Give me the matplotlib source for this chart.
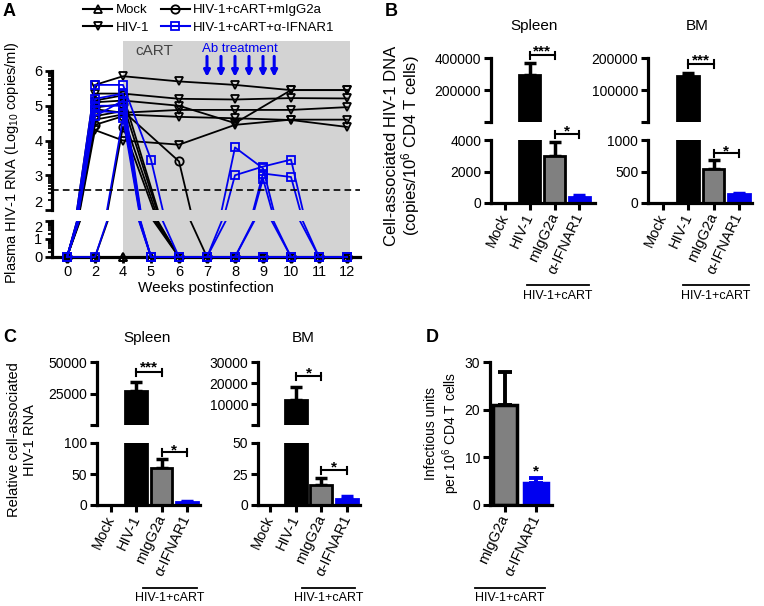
import numpy as np
import matplotlib.pyplot as plt
import matplotlib.transforms as mtransforms
from matplotlib.lines import Line2D
from matplotlib.patches import Rectangle

plt.rcParams['font.family'] = ['Liberation Sans', 'DejaVu Sans']
plt.rcParams['mathtext.fontset'] = 'custom'
plt.rcParams['mathtext.rm'] = 'Liberation Sans'
plt.rcParams['mathtext.it'] = 'Liberation Sans:italic'
plt.rcParams['mathtext.bf'] = 'Liberation Sans:bold'

BLUE = '#0000f0'
GRAY = '#808080'
SHADE = '#d3d3d3'

# ---------------- panel A data (log10 copies/ml per mouse)
week_vals = [0, 2, 4, 5, 6, 7, 8, 9, 10, 11, 12]
week_labels = ['0', '2', '4', '5', '6', '7', '8', '9', '10', '11', '12']
lod = 2.57
ab_weeks = [7, 7.5, 8, 8.5, 9, 9.4]

mock_weeks = [0, 2, 4, 5, 6, 7, 8, 9, 10, 11, 12]
mock_mice = [
    [0, 0, 0, 0, 0, 0, 0, 0, 0, 0, 0],
    [0, 0, 0, 0, 0, 0, 0, 0, 0, 0, 0],
]

hiv_weeks = [0, 2, 4, 6, 8, 10, 12]
hiv_mice = [
    [0, 5.60, 5.85, 5.70, 5.60, 5.45, 5.45],
    [0, 5.35, 5.35, 5.20, 5.18, 5.22, 5.21],
    [0, 5.10, 5.15, 5.00, 4.50, 5.45, 5.45],
    [0, 4.90, 4.80, 4.88, 4.88, 4.88, 4.96],
    [0, 4.60, 4.75, 4.68, 4.64, 4.59, 4.39],
    [0, 4.30, 4.00, 3.88, 4.45, 4.60, 4.60],
]

igg_weeks = [0, 2, 4, 6, 7, 8, 9, 10, 11, 12]
igg_mice = [
    [0, 5.15, 5.30, 0, 0, 0, 0, 0, 0, 0],
    [0, 4.95, 5.05, 0, 0, 0, 0, 0, 0, 0],
    [0, 4.70, 4.85, 3.40, 0, 0, 0, 0, 0, 0],
    [0, 4.45, 4.70, 0, 0, 0, 0, 0, 0, 0],
    [0, 0, 4.40, 0, 0, 0, 0, 0, 0, 0],
]

ifn_weeks = [0, 2, 4, 5, 6, 7, 8, 9, 10, 11, 12]
ifn_mice = [
    [0, 5.60, 5.60, 3.45, 0, 0, 3.80, 3.20, 0, 0, 0],
    [0, 5.20, 5.35, 0, 0, 0, 3.00, 3.25, 3.45, 0, 0],
    [0, 5.00, 5.00, 0, 0, 0, 0, 3.05, 2.95, 0, 0],
    [0, 4.85, 4.80, 0, 0, 0, 0, 2.90, 0, 0, 0],
    [0, 4.70, 5.15, 0, 0, 0, 0, 0, 0, 0, 0],
    [0, 0, 4.65, 0, 0, 0, 0, 0, 0, 0, 0],
]

# ---------------- bar panels data
cats = ['Mock', 'HIV-1', 'mIgG2a', 'α-IFNAR1']
b_spl_mean = [0, 297000, 3000, 380]
b_spl_err = [0, 75000, 850, 100]
b_bm_mean = [0, 145000, 535, 143]
b_bm_err = [0, 8000, 150, 20]
c_spl_mean = [0, 27000, 60, 5]
c_spl_err = [0, 7500, 14, 2]
c_bm_mean = [0, 12000, 16, 5]
c_bm_err = [0, 6000, 5.5, 2]
d_cats = ['mIgG2a', 'α-IFNAR1']
d_mean = [21, 4.6]
d_err = [7, 1.1]

fills = ['black', 'black', GRAY, BLUE]
edges = ['black', 'black', 'black', BLUE]

W, H = 764, 606
fig = plt.figure(figsize=(W / 100, H / 100), dpi=100)


def px_ax(x0, y0, x1, y1):
    ax = fig.add_axes([x0 / W, 1 - y1 / H, (x1 - x0) / W, (y1 - y0) / H])
    ax.set_facecolor('none')
    for s in ['top', 'right']:
        ax.spines[s].set_visible(False)
    for s in ['left', 'bottom']:
        ax.spines[s].set_linewidth(2.3)
    return ax


def fy(p):
    return 1 - p / H


# ================= Panel A
xa0, xa1, xfirst, xstep = 52, 360, 67, 28
xlimA = (-(xfirst - xa0) / xstep, (xa1 - xfirst) / xstep)
axT = px_ax(xa0, 41, xa1, 210)
axT.set_ylim(2, 6 + (71 - 41) / 34.75)
axB = px_ax(xa0, 221, xa1, 260)
axB.set_ylim(-(260 - 257) / 18, 2)

for ax in (axT, axB):
    ax.set_xlim(xlimA)
    ax.tick_params(axis='y', which='major', length=5, width=2, labelsize=10.5, pad=2)
    ax.tick_params(axis='y', which='minor', length=3, width=1.3)
axT.spines['bottom'].set_visible(False)
axT.tick_params(axis='x', bottom=False, labelbottom=False)
axT.spines['left'].set_bounds(2, 6)
axT.set_yticks([2, 3, 4, 5, 6])
axT.set_yticks([n + np.log10(k) for n in range(2, 6) for k in range(2, 10)], minor=True)
axT.get_yticklabels()[0].set_va('bottom')
axB.spines['left'].set_bounds(0, 2)
axB.spines['bottom'].set_position(('data', 0))
axB.set_yticks([0, 1, 2])
axB.set_yticks([n + np.log10(k) for n in range(0, 2) for k in range(2, 10)], minor=True)
axB.get_yticklabels()[-1].set_va('top')
axB.set_xticks(range(len(week_vals)), week_labels)
axB.tick_params(axis='x', length=4, width=2, labelsize=10.5, pad=2)
axB.set_xlabel('Weeks postinfection', fontsize=11, labelpad=1)

trA = mtransforms.blended_transform_factory(axB.transData, fig.transFigure)
fig.add_artist(Rectangle((week_vals.index(4), fy(257)), 8.1, (257 - 41) / H,
                         transform=trA, facecolor=SHADE, edgecolor='none', zorder=-1))

axT.axhline(lod, color='black', lw=1.2, ls=(0, (4, 2.5)), zorder=4)


def plot_mice(weeks, mice, color, marker, z):
    xs = [week_vals.index(w) for w in weeks]
    for ys in mice:
        for ax, top in ((axT, True), (axB, False)):
            ax.plot(xs, ys, color=color, lw=1.3, zorder=z)
            pts = [(x, v) for x, v in zip(xs, ys) if (v >= 2 if top else v <= 2)]
            if pts:
                mx, my = zip(*pts)
                ax.plot(mx, my, ls='none', marker=marker, ms=6, mfc='none', mec=color,
                        mew=1.3, clip_on=False, zorder=z + 0.1)


plot_mice(mock_weeks, mock_mice, 'black', '^', 3)
plot_mice(hiv_weeks, hiv_mice, 'black', 'v', 3.2)
plot_mice(igg_weeks, igg_mice, 'black', 'o', 3.4)
plot_mice(ifn_weeks, ifn_mice, BLUE, 's', 3.6)

ab_x = np.interp(ab_weeks, week_vals, range(len(week_vals)))
for x in ab_x:
    axT.annotate('', xy=(x, 5.83), xytext=(x, 6.42),
                 arrowprops=dict(arrowstyle='-|>', color=BLUE, lw=2.2, mutation_scale=9,
                                 shrinkA=0, shrinkB=0), annotation_clip=False)
fig.text(154 / W, fy(51), 'cART', ha='center', va='center', fontsize=11, color='#444444')
fig.text(240 / W, fy(49), 'Ab treatment', ha='center', va='center', fontsize=9.5, color=BLUE)

handles = [
    Line2D([], [], color='black', marker='^', mfc='none', ms=6, mew=1.3, lw=1.5),
    Line2D([], [], color='black', marker='v', mfc='none', ms=6, mew=1.3, lw=1.5),
    Line2D([], [], color='black', marker='o', mfc='none', ms=6, mew=1.3, lw=1.5),
    Line2D([], [], color=BLUE, marker='s', mfc='none', ms=6, mew=1.3, lw=1.5),
]
fig.legend(handles, ['Mock', 'HIV-1', 'HIV-1+cART+mIgG2a', 'HIV-1+cART+α-IFNAR1'],
           ncol=2, loc='center', bbox_to_anchor=(209 / W, fy(19)), frameon=False,
           fontsize=9.5, handlelength=2.2, handletextpad=0.25, columnspacing=0.9,
           labelspacing=0.38, borderpad=0)
fig.text(12 / W, fy(163), 'Plasma HIV-1 RNA (Log$_{10}$ copies/ml)', rotation=90,
         ha='center', va='center', fontsize=10.5)


# ================= bar helpers
def draw_bars(ax, pos, means, errs, width, base=0):
    keep = [i for i, m in enumerate(means) if m > base]
    ax.bar([pos[i] for i in keep], [means[i] - base for i in keep], bottom=base, width=width,
           color=[fills[i] for i in keep], edgecolor=[edges[i] for i in keep],
           linewidth=2, zorder=2)
    for i in keep:
        if errs[i] > 0:
            ax.errorbar(pos[i], means[i], yerr=[[0], [errs[i]]], fmt='none', ecolor=edges[i],
                        elinewidth=2.5, capsize=4.5, capthick=2.5, zorder=1.9)


def style_x(ax, labels):
    ax.set_xticks(range(len(labels)))
    ax.set_xticklabels(labels, rotation=65, ha='right', va='center', rotation_mode='anchor',
                       fontsize=10.5)
    ax.tick_params(axis='x', length=5, width=2.2, pad=3)
    ax.tick_params(axis='y', length=5, width=2.2, labelsize=10, pad=2)


def broken_panel(xpx, low, up, means, errs):
    spine, first, step, end = xpx
    xlim = (-(first - spine) / step, (end - first) / step)
    lhi, px0, pxl, lticks = low
    lo, hi, pxlo, pxhi, pxtop, uticks = up
    au = px_ax(spine, pxtop, end, pxlo)
    au.set_ylim(lo, hi + (pxhi - pxtop) * (hi - lo) / (pxlo - pxhi))
    al = px_ax(spine, pxl, end, px0)
    al.set_ylim(0, lhi)
    pos = list(range(len(means)))
    au.set_xlim(xlim)
    al.set_xlim(xlim)
    draw_bars(au, pos, means, errs, 0.86, base=lo)
    draw_bars(al, pos, means, errs, 0.86)
    au.spines['bottom'].set_visible(False)
    au.tick_params(axis='x', bottom=False, labelbottom=False)
    au.tick_params(axis='y', length=5, width=2.2, labelsize=10, pad=2)
    au.spines['left'].set_bounds(lo, hi)
    au.set_yticks(uticks, ['' if t == lo else str(t) for t in uticks])
    al.spines['left'].set_bounds(0, lhi)
    al.set_yticks(lticks, [str(t) for t in lticks])
    style_x(al, cats)
    return au, al


def bracket(ax, x1, x2, ypx, stars, spx):
    tr = mtransforms.blended_transform_factory(ax.transData, fig.transFigure)
    d = 3.5 / H
    y = fy(ypx)
    kw = dict(transform=tr, clip_on=False, color='black', lw=1.5, zorder=5)
    ax.plot([x1, x2], [y, y], **kw)
    ax.plot([x1, x1], [y - d, y + d], **kw)
    ax.plot([x2, x2], [y - d, y + d], **kw)
    ax.text((x1 + x2) / 2, fy(spx + 9), stars, transform=tr, ha='center', va='baseline',
            fontsize=11, fontweight='bold')


def group_line(ax, x1, x2, lpx, tpx):
    tr = mtransforms.blended_transform_factory(ax.transData, fig.transFigure)
    ax.plot([x1, x2], [fy(lpx), fy(lpx)], transform=tr, clip_on=False, color='black', lw=1.3)
    ax.text((x1 + x2) / 2, fy(tpx), 'HIV-1+cART', transform=tr, ha='center', va='center',
            fontsize=9)


# ================= Panel B
bsu, bsl = broken_panel((491, 505, 24.8, 595), (4000, 203, 140, [0, 2000, 4000]),
                        (4000, 400000, 122, 58, 35, [4000, 200000, 400000]),
                        b_spl_mean, b_spl_err)
bracket(bsu, 1, 2, 55, '***', 46)
bracket(bsl, 2, 3, 134, '*', 126)
group_line(bsl, 0.88, 3.4, 285, 296)

bbu, bbl = broken_panel((648, 663, 25.3, 752), (1000, 203, 140, [0, 500, 1000]),
                        (1000, 200000, 122, 58, 35, [1000, 100000, 200000]),
                        b_bm_mean, b_bm_err)
bracket(bbu, 1, 2, 64, '***', 55)
bracket(bbl, 2, 3, 153, '*', 146)
group_line(bbl, 0.8, 3.4, 285, 296)

fig.text(534 / W, fy(26), 'Spleen', ha='center', va='center', fontsize=11)
fig.text(697 / W, fy(26), 'BM', ha='center', va='center', fontsize=11)
fig.text(403 / W, fy(146), 'Cell-associated HIV-1 DNA\n(copies/10$^6$ CD4 T cells)',
         rotation=90, ha='center', va='center', fontsize=12, linespacing=1.0)

# ================= Panel C
csu, csl = broken_panel((97, 111, 25.3, 200), (100, 505, 443, [0, 50, 100]),
                        (100, 50000, 425, 362, 350, [100, 25000, 50000]),
                        c_spl_mean, c_spl_err)
bracket(csu, 1, 2, 372, '***', 362)
bracket(csl, 2, 3, 452, '*', 445)
group_line(csl, 1.26, 3.4, 588, 598)

cbu, cbl = broken_panel((258, 270, 25.67, 360), (50, 505, 443, [0, 25, 50]),
                        (50, 30000, 425, 362, 350, [50, 10000, 20000, 30000]),
                        c_bm_mean, c_bm_err)
bracket(cbu, 1, 2, 376, '*', 368)
bracket(cbl, 2, 3, 470, '*', 462)
group_line(cbl, 1.25, 3.3, 588, 598)

fig.text(147 / W, fy(338), 'Spleen', ha='center', va='center', fontsize=11)
fig.text(303 / W, fy(338), 'BM', ha='center', va='center', fontsize=11)
fig.text(22 / W, fy(440), 'Relative cell-associated\nHIV-1 RNA', rotation=90,
         ha='center', va='center', fontsize=10.5, linespacing=1.15)

# ================= Panel D
axD = px_ax(490, 362, 552, 505)
axD.set_xlim(-15 / 31, 1 + 16 / 31)
axD.set_ylim(0, 30)
axD.bar([0, 1], d_mean, width=0.8, color=[GRAY, BLUE], edgecolor=['black', BLUE],
        linewidth=2.5, zorder=2)
for x, m, e, c in zip([0, 1], d_mean, d_err, ['black', BLUE]):
    axD.errorbar(x, m, yerr=[[0], [e]], fmt='none', ecolor=c, elinewidth=2.8,
                 capsize=5, capthick=2.8, zorder=1.9)
axD.set_yticks([0, 10, 20, 30])
style_x(axD, d_cats)
trD = mtransforms.blended_transform_factory(axD.transData, fig.transFigure)
axD.text(1, fy(466 + 9), '*', transform=trD, ha='center', va='baseline', fontsize=11,
         fontweight='bold')
group_line(axD, -0.97, 1.29, 588, 598)
fig.text(443 / W, fy(433), 'Infectious units\nper 10$^6$ CD4 T cells', rotation=90,
         ha='center', va='center', fontsize=10, linespacing=1.15)

# panel letters
for lab, x, y in [('A', 9, 12), ('B', 391, 11), ('C', 10, 338), ('D', 432, 338)]:
    fig.text(x / W, fy(y), lab, ha='center', va='center', fontsize=13, fontweight='bold')

fig.savefig('out.png', dpi=100)
